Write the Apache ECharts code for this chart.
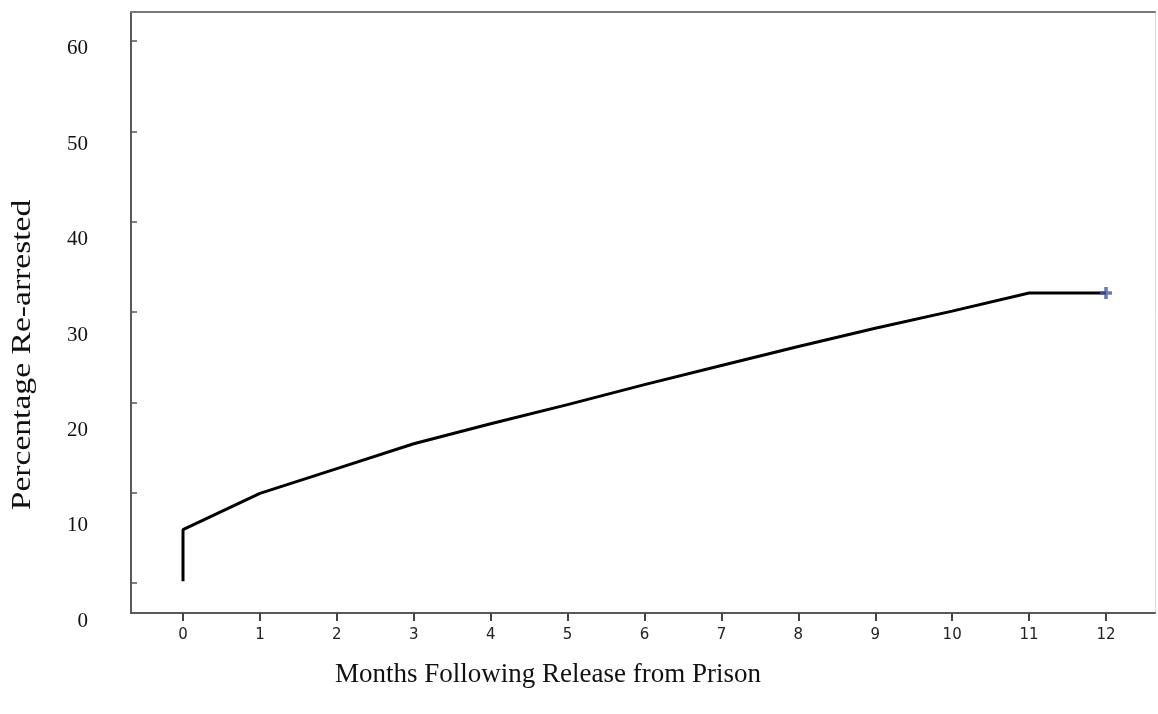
<!DOCTYPE html>
<html>
<head>
<meta charset="utf-8">
<script src="https://cdn.jsdelivr.net/npm/echarts@6/dist/echarts.min.js"></script>
<style>
html,body{margin:0;padding:0;background:#fff;}
#chart{width:1158px;height:714px;}
</style>
</head>
<body>
<div id="chart"></div>
<script>
// Data
var months = [0, 0, 1, 2, 3, 4, 5, 6, 7, 8, 9, 10, 11, 12];
var pctRearrested = [4.2, 9.6, 13.4, 16.0, 18.6, 20.7, 22.7, 24.8, 26.8, 28.8, 30.7, 32.5, 34.4, 34.4];
var censorMonth = [12];
var censorPct = [34.4];
var xTickLabels = ['0','1','2','3','4','5','6','7','8','9','10','11','12'];
var yTickLabels = ['0','10','20','30','40','50','60'];
var xTitle = 'Months Following Release from Prison';
var yTitle = 'Percentage Re-arrested';

var lineData = months.map(function (m, i) { return [m, pctRearrested[i]]; });
var censorData = censorMonth.map(function (m, i) { return [m, censorPct[i]]; });

var chart = echarts.init(document.getElementById('chart'), null, {renderer: 'canvas'});
var serif = '"Liberation Serif", "Times New Roman", serif';

function frameAxis(extra) {
  var a = {type: 'value', min: 0, max: 1,
    axisTick: {show: false}, axisLabel: {show: false}, splitLine: {show: false}};
  for (var k in extra) a[k] = extra[k];
  return a;
}

var option = {
  backgroundColor: '#fff',
  animation: false,
  grid: [
    // 0: frame
    {left: 131, right: 3, top: 12, bottom: 101, containLabel: false},
    // 1: left tick marks
    {left: 131, right: 3, top: 41, bottom: 131, containLabel: false},
    // 2: data grid
    {left: 183, right: 52, top: 48.7, bottom: 92.7, containLabel: false}
  ],
  xAxis: [
    frameAxis({gridIndex: 0, position: 'bottom',
      axisLine: {show: true, onZero: false, lineStyle: {color: '#5a5a5a', width: 2}}}),
    frameAxis({gridIndex: 0, position: 'top',
      axisLine: {show: true, onZero: false, lineStyle: {color: '#7a7a7a', width: 2}}}),
    {gridIndex: 1, type: 'value', min: 0, max: 1, show: false},
    {gridIndex: 2, type: 'value', min: 0, max: 12, interval: 1, position: 'bottom', offset: -8.3,
     axisLine: {show: false, onZero: false},
     axisTick: {show: true, inside: false, length: 8, lineStyle: {color: '#444', width: 2}},
     axisLabel: {show: true, margin: 15, color: '#222', fontSize: 15, fontFamily: '"DejaVu Sans", sans-serif',
       formatter: function (v) { return xTickLabels[Math.round(v)]; }},
     splitLine: {show: false}}
  ],
  yAxis: [
    frameAxis({gridIndex: 0, position: 'left',
      axisLine: {show: true, onZero: false, lineStyle: {color: '#5a5a5a', width: 2}}}),
    frameAxis({gridIndex: 0, position: 'right',
      axisLine: {show: true, onZero: false, lineStyle: {color: '#dcdcdc', width: 1}}}),
    {gridIndex: 1, type: 'value', min: 0, max: 6, interval: 1, position: 'left',
     axisLine: {show: false, onZero: false},
     axisTick: {show: true, inside: true, length: 6, lineStyle: {color: '#555', width: 1.5}},
     axisLabel: {show: false}, splitLine: {show: false}},
    {gridIndex: 2, type: 'value', min: 0, max: 60, interval: 10, position: 'left',
     axisLine: {show: false, onZero: false}, axisTick: {show: false},
     axisLabel: {show: true, margin: 95, color: '#111', fontSize: 21, fontFamily: serif,
       formatter: function (v) { return yTickLabels[Math.round(v / 10)]; }},
     splitLine: {show: false}}
  ],
  series: [
    {type: 'line', xAxisIndex: 3, yAxisIndex: 3, data: lineData, showSymbol: false, symbol: 'none',
     lineStyle: {color: '#000', width: 3}, z: 3},
    {type: 'scatter', xAxisIndex: 3, yAxisIndex: 3, data: censorData,
     symbol: 'path://M3.5,0 L6.5,0 L6.5,3.5 L10,3.5 L10,6.5 L6.5,6.5 L6.5,10 L3.5,10 L3.5,6.5 L0,6.5 L0,3.5 L3.5,3.5 Z',
     symbolSize: 12, itemStyle: {color: '#4a5aa0'}, z: 4}
  ],
  graphic: [
    {type: 'text', x: 23, y: 355, rotation: Math.PI / 2, scaleX: 1.2, scaleY: 1,
     style: {text: yTitle, font: '28px ' + serif, fill: '#111', align: 'center', verticalAlign: 'middle'}},
    {type: 'text', x: 548, y: 675,
     style: {text: xTitle, font: '27px ' + serif, fill: '#111', align: 'center', verticalAlign: 'middle'}}
  ]
};
chart.setOption(option);
</script>
</body>
</html>
